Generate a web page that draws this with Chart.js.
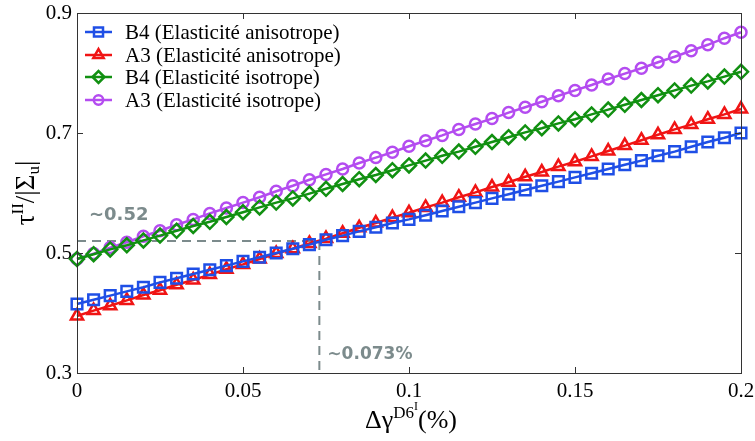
<!DOCTYPE html>
<html><head><meta charset="utf-8">
<script src="https://cdn.jsdelivr.net/npm/chart.js@4/dist/chart.umd.min.js"></script>
<style>html,body{margin:0;padding:0;background:#fff}#wrap{width:755px;height:441px}</style>
</head><body><div id="wrap"><canvas id="c" width="755" height="441"></canvas></div>
<script>
const deltaGamma = [0,0.005,0.01,0.015,0.02,0.025,0.03,0.035,0.04,0.045,0.05,0.055,0.06,0.065,0.07,0.075,0.08,0.085,0.09,0.095,0.1,0.105,0.11,0.115,0.12,0.125,0.13,0.135,0.14,0.145,0.15,0.155,0.16,0.165,0.17,0.175,0.18,0.185,0.19,0.195,0.2];
const b4Aniso = [0.415,0.422,0.429,0.436,0.443,0.451,0.458,0.465,0.472,0.479,0.486,0.493,0.500,0.507,0.514,0.522,0.529,0.536,0.543,0.550,0.556,0.563,0.570,0.577,0.584,0.591,0.598,0.605,0.612,0.619,0.626,0.633,0.640,0.647,0.654,0.662,0.669,0.677,0.685,0.692,0.700];
const a3Aniso = [0.395,0.404,0.412,0.421,0.430,0.438,0.447,0.455,0.464,0.473,0.481,0.490,0.499,0.507,0.516,0.524,0.533,0.542,0.550,0.559,0.567,0.576,0.584,0.593,0.601,0.610,0.618,0.627,0.635,0.644,0.652,0.661,0.670,0.679,0.688,0.697,0.706,0.714,0.723,0.731,0.740];
const b4Iso = [0.490,0.498,0.506,0.513,0.521,0.529,0.537,0.545,0.552,0.560,0.568,0.576,0.584,0.591,0.599,0.607,0.615,0.623,0.630,0.638,0.646,0.654,0.662,0.669,0.677,0.685,0.693,0.701,0.708,0.716,0.723,0.731,0.739,0.747,0.755,0.763,0.771,0.779,0.786,0.794,0.802];
const a3Iso = [0.490,0.499,0.509,0.518,0.528,0.537,0.547,0.556,0.566,0.575,0.584,0.593,0.603,0.612,0.622,0.631,0.640,0.650,0.659,0.668,0.678,0.687,0.696,0.706,0.715,0.724,0.734,0.743,0.752,0.762,0.771,0.780,0.790,0.799,0.808,0.818,0.827,0.837,0.847,0.858,0.868];
const seriesLabels = ['B4 (Elasticité anisotrope)','A3 (Elasticité anisotrope)','B4 (Elasticité isotrope)','A3 (Elasticité isotrope)'];
const xTicks = [0,0.05,0.1,0.15,0.2];
const yTicks = [0.3,0.5,0.7,0.9];
const crossX = 0.073, crossY = 0.52;
const crossXLabel = '∼0.073%', crossYLabel = '∼0.52';

const colors = ['#1f4fe6','#f01414','#119011','#b44cf0'];
const styles = ['rect','triangle','rectRot','circle'];
const radii = [7.5,7,7,5.5];
const seriesData = [b4Aniso,a3Aniso,b4Iso,a3Iso];

const datasets = seriesData.map((arr,i)=>({
  label: seriesLabels[i],
  data: arr.map((v,j)=>({x:deltaGamma[j], y:v})),
  borderColor: colors[i],
  backgroundColor: colors[i],
  borderWidth: 2.5,
  pointStyle: styles[i],
  pointRadius: radii[i],
  pointBorderWidth: 2.5,
  pointBorderColor: colors[i],
  pointBackgroundColor: 'rgba(0,0,0,0)',
  clip: false,
  tension: 0
}));

const SERIF = '"Liberation Serif","Times New Roman",serif';
const GREY = '#7c8b8c';

const deco = {
  id:'deco',
  beforeDatasetsDraw(chart){
    const {ctx, chartArea:a, scales:{x,y}} = chart;
    ctx.save();
    ctx.strokeStyle = GREY; ctx.lineWidth = 2; ctx.setLineDash([9,6]);
    const px = x.getPixelForValue(crossX), py = y.getPixelForValue(crossY);
    ctx.beginPath(); ctx.moveTo(a.left, py); ctx.lineTo(px, py); ctx.stroke();
    ctx.beginPath(); ctx.moveTo(px, py); ctx.lineTo(px, a.bottom); ctx.stroke();
    ctx.setLineDash([]);
    ctx.fillStyle = GREY;
    ctx.font = 'bold 18px "DejaVu Sans", sans-serif';
    ctx.textBaseline = 'middle'; ctx.textAlign = 'left';
    ctx.fillText(crossYLabel, a.left + 12, py - 26);
    ctx.font = 'bold 17px "DejaVu Sans", sans-serif';
    ctx.fillText(crossXLabel, px + 8, a.bottom - 18);
    ctx.restore();
  },
  afterDraw(chart){
    const {ctx, chartArea:a, scales:{x,y}} = chart;
    ctx.save();
    ctx.strokeStyle = '#333'; ctx.lineWidth = 1;
    ctx.strokeRect(a.left+0.5, a.top+0.5, a.right-a.left, a.bottom-a.top);
    ctx.beginPath();
    xTicks.forEach(v=>{const p=Math.round(x.getPixelForValue(v))+0.5;
      ctx.moveTo(p,a.bottom); ctx.lineTo(p,a.bottom-6);
      ctx.moveTo(p,a.top); ctx.lineTo(p,a.top+6);});
    yTicks.forEach(v=>{const p=Math.round(y.getPixelForValue(v))+0.5;
      ctx.moveTo(a.left,p); ctx.lineTo(a.left+6,p);
      ctx.moveTo(a.right,p); ctx.lineTo(a.right-6,p);});
    ctx.stroke();
    const rows = [32,55,77,100];
    chart.data.datasets.forEach((ds,i)=>{
      const ry = rows[i];
      ctx.strokeStyle = ds.borderColor; ctx.lineWidth = 2.5;
      ctx.beginPath(); ctx.moveTo(85,ry); ctx.lineTo(112,ry); ctx.stroke();
      ctx.fillStyle = 'rgba(0,0,0,0)';
      Chart.helpers.drawPoint(ctx,{pointStyle:ds.pointStyle,radius:ds.pointRadius*0.85,borderWidth:2.5,rotation:0},98.5,ry);
      ctx.fillStyle = '#000'; ctx.font = '21px '+SERIF;
      ctx.textBaseline = 'middle'; ctx.textAlign = 'left';
      ctx.fillText(ds.label, 125, ry+1);
    });
    ctx.fillStyle = '#000'; ctx.textBaseline = 'alphabetic'; ctx.textAlign = 'left';
    const parts = [['Δγ','26px',0],['D6','17px',-10],['I','12px',-18],['(%)','26px',0]];
    let total = 0;
    parts.forEach(p=>{ctx.font=p[1]+' '+SERIF; total+=ctx.measureText(p[0]).width;});
    let cx = (a.left+a.right)/2 - total/2 + 2;
    const by = 428;
    parts.forEach(p=>{ctx.font=p[1]+' '+SERIF; ctx.fillText(p[0],cx,by+p[2]); cx+=ctx.measureText(p[0]).width;});
    ctx.translate(34, 193); ctx.rotate(-Math.PI/2);
    const yp = [['τ','27px',0],['II','17px',-11],['/|Σ','27px',0],['u','17px',5],['|','27px',0]];
    total = 0;
    yp.forEach(p=>{ctx.font=p[1]+' '+SERIF; total+=ctx.measureText(p[0]).width;});
    cx = -total/2;
    yp.forEach(p=>{ctx.font=p[1]+' '+SERIF; ctx.fillText(p[0],cx,p[2]); cx+=ctx.measureText(p[0]).width;});
    ctx.restore();
  }
};

new Chart(document.getElementById('c'), {
  type:'line',
  data:{datasets},
  options:{
    responsive:false, animation:false, devicePixelRatio:1,
    layout:{padding:{left:0,top:13,right:14,bottom:0}},
    plugins:{legend:{display:false}, tooltip:{enabled:false}},
    scales:{
      x:{type:'linear', min:0, max:0.2,
        grid:{display:false, drawTicks:false}, border:{display:false},
        afterBuildTicks:s=>{s.ticks = xTicks.map(v=>({value:v}));},
        afterFit:s=>{s.height = 68; s.paddingLeft = 0; s.paddingRight = 0;},
        ticks:{color:'#000', font:{family:SERIF,size:21}, padding:6, maxRotation:0, autoSkip:false, callback:v=>String(v)}},
      y:{type:'linear', min:0.3, max:0.9,
        grid:{display:false, drawTicks:false}, border:{display:false},
        afterBuildTicks:s=>{s.ticks = yTicks.map(v=>({value:v}));},
        afterFit:s=>{s.width = 77; s.paddingTop = 0; s.paddingBottom = 0;},
        ticks:{color:'#000', font:{family:SERIF,size:21}, padding:5, autoSkip:false, callback:v=>String(v)}}
    }
  },
  plugins:[deco]
});
</script></body></html>
